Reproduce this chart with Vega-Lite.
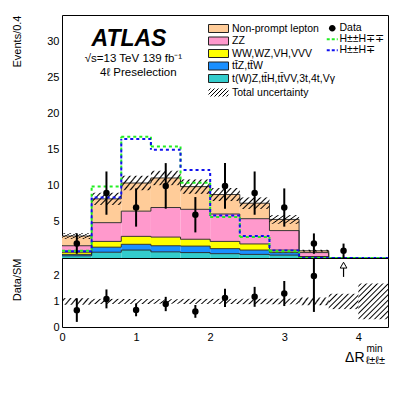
{
"$schema": "https://vega.github.io/schema/vega-lite/v6.json",
"autosize": {"type": "pad"},
"padding": {"left": 10, "top": 13, "right": 10, "bottom": 10},
"spacing": 0,
"bounds": "flush",
"config": {
  "font": "Liberation Sans",
  "view": {"stroke": "black", "strokeWidth": 1},
  "axis": {"labelFontSize": 11, "titleFontSize": 11, "labelColor": "black", "titleColor": "black", "titleFontWeight": "normal", "domain": false, "grid": false, "tickColor": "black", "tickWidth": 1, "tickSize": 0, "labelPadding": 3, "labelFlush": false, "labelOverlap": false},
  "legend": {"labelFontSize": 10.5, "labelColor": "black"}
},
"datasets": {
  "bkg": [
    {"lo":0,"hi":0.4,"c":"oth","o":0,"v":0.3},{"lo":0,"hi":0.4,"c":"ttv","o":1,"v":0.2},{"lo":0,"hi":0.4,"c":"vv","o":2,"v":0.3},{"lo":0,"hi":0.4,"c":"zz","o":3,"v":0.9},{"lo":0,"hi":0.4,"c":"np","o":4,"v":1.35},
    {"lo":0.4,"hi":0.8,"c":"oth","o":0,"v":0.8},{"lo":0.4,"hi":0.8,"c":"ttv","o":1,"v":0.7},{"lo":0.4,"hi":0.8,"c":"vv","o":2,"v":0.8},{"lo":0.4,"hi":0.8,"c":"zz","o":3,"v":2.6},{"lo":0.4,"hi":0.8,"c":"np","o":4,"v":3.3},
    {"lo":0.8,"hi":1.2,"c":"oth","o":0,"v":1.1},{"lo":0.8,"hi":1.2,"c":"ttv","o":1,"v":0.8},{"lo":0.8,"hi":1.2,"c":"vv","o":2,"v":1.1},{"lo":0.8,"hi":1.2,"c":"zz","o":3,"v":3.5},{"lo":0.8,"hi":1.2,"c":"np","o":4,"v":3.9},
    {"lo":1.2,"hi":1.6,"c":"oth","o":0,"v":0.85},{"lo":1.2,"hi":1.6,"c":"ttv","o":1,"v":0.85},{"lo":1.2,"hi":1.6,"c":"vv","o":2,"v":1.2},{"lo":1.2,"hi":1.6,"c":"zz","o":3,"v":4.1},{"lo":1.2,"hi":1.6,"c":"np","o":4,"v":4.1},
    {"lo":1.6,"hi":2.0,"c":"oth","o":0,"v":0.75},{"lo":1.6,"hi":2.0,"c":"ttv","o":1,"v":0.9},{"lo":1.6,"hi":2.0,"c":"vv","o":2,"v":0.95},{"lo":1.6,"hi":2.0,"c":"zz","o":3,"v":4.15},{"lo":1.6,"hi":2.0,"c":"np","o":4,"v":3.15},
    {"lo":2.0,"hi":2.4,"c":"oth","o":0,"v":0.6},{"lo":2.0,"hi":2.4,"c":"ttv","o":1,"v":0.7},{"lo":2.0,"hi":2.4,"c":"vv","o":2,"v":1.0},{"lo":2.0,"hi":2.4,"c":"zz","o":3,"v":3.8},{"lo":2.0,"hi":2.4,"c":"np","o":4,"v":2.7},
    {"lo":2.4,"hi":2.8,"c":"oth","o":0,"v":0.5},{"lo":2.4,"hi":2.8,"c":"ttv","o":1,"v":0.6},{"lo":2.4,"hi":2.8,"c":"vv","o":2,"v":0.85},{"lo":2.4,"hi":2.8,"c":"zz","o":3,"v":3.5},{"lo":2.4,"hi":2.8,"c":"np","o":4,"v":2.15},
    {"lo":2.8,"hi":3.2,"c":"oth","o":0,"v":0.4},{"lo":2.8,"hi":3.2,"c":"ttv","o":1,"v":0.35},{"lo":2.8,"hi":3.2,"c":"vv","o":2,"v":0.35},{"lo":2.8,"hi":3.2,"c":"zz","o":3,"v":2.7},{"lo":2.8,"hi":3.2,"c":"np","o":4,"v":1.55},
    {"lo":3.2,"hi":3.6,"c":"oth","o":0,"v":0.05},{"lo":3.2,"hi":3.6,"c":"ttv","o":1,"v":0.05},{"lo":3.2,"hi":3.6,"c":"vv","o":2,"v":0.1},{"lo":3.2,"hi":3.6,"c":"zz","o":3,"v":0.55},{"lo":3.2,"hi":3.6,"c":"np","o":4,"v":0.25},
    {"lo":3.6,"hi":4.0,"c":"oth","o":0,"v":0},{"lo":3.6,"hi":4.0,"c":"ttv","o":1,"v":0},{"lo":3.6,"hi":4.0,"c":"vv","o":2,"v":0},{"lo":3.6,"hi":4.0,"c":"zz","o":3,"v":0},{"lo":3.6,"hi":4.0,"c":"np","o":4,"v":0}
  ],
  "band": [
    {"lo":0,"hi":0.4,"l":2.65,"u":3.45},{"lo":0.4,"hi":0.8,"l":7.35,"u":9.05},{"lo":0.8,"hi":1.2,"l":9.4,"u":11.4},{"lo":1.2,"hi":1.6,"l":10.1,"u":12.1},{"lo":1.6,"hi":2.0,"l":8.9,"u":10.9},{"lo":2.0,"hi":2.4,"l":7.9,"u":9.7},{"lo":2.4,"hi":2.8,"l":6.8,"u":8.4},{"lo":2.8,"hi":3.2,"l":4.75,"u":5.95},{"lo":3.2,"hi":3.6,"l":0.85,"u":1.15}
  ],
  "sig": [
    {"lo":0,"hi":0.4,"s":"H±±H∓∓","v":1.0},{"lo":0.4,"hi":0.8,"s":"H±±H∓∓","v":9.9},{"lo":0.8,"hi":1.2,"s":"H±±H∓∓","v":16.8},{"lo":1.2,"hi":1.6,"s":"H±±H∓∓","v":15.45},{"lo":1.6,"hi":2.0,"s":"H±±H∓∓","v":10.45},{"lo":2.0,"hi":2.4,"s":"H±±H∓∓","v":5.7},{"lo":2.4,"hi":2.8,"s":"H±±H∓∓","v":2.9},{"lo":2.8,"hi":3.2,"s":"H±±H∓∓","v":0.95},{"lo":3.2,"hi":3.6,"s":"H±±H∓∓","v":0},{"lo":3.6,"hi":4.0,"s":"H±±H∓∓","v":0},{"lo":4.0,"hi":4.4,"s":"H±±H∓∓","v":0},
    {"lo":0,"hi":0.4,"s":"H±±H∓","v":0.95},{"lo":0.4,"hi":0.8,"s":"H±±H∓","v":8.4},{"lo":0.8,"hi":1.2,"s":"H±±H∓","v":16.5},{"lo":1.2,"hi":1.6,"s":"H±±H∓","v":15.0},{"lo":1.6,"hi":2.0,"s":"H±±H∓","v":12.2},{"lo":2.0,"hi":2.4,"s":"H±±H∓","v":5.9},{"lo":2.4,"hi":2.8,"s":"H±±H∓","v":3.05},{"lo":2.8,"hi":3.2,"s":"H±±H∓","v":1.05},{"lo":3.2,"hi":3.6,"s":"H±±H∓","v":0},{"lo":3.6,"hi":4.0,"s":"H±±H∓","v":0},{"lo":4.0,"hi":4.4,"s":"H±±H∓","v":0}
  ],
  "obs": [
    {"x":0.2,"n":2,"lo":0.59,"hi":3.41},{"x":0.6,"n":9,"lo":6,"hi":12},{"x":1.0,"n":7,"lo":4.35,"hi":9.65},{"x":1.4,"n":10,"lo":6.84,"hi":13.16},{"x":1.8,"n":6,"lo":3.55,"hi":8.45},{"x":2.2,"n":10,"lo":6.84,"hi":13.16},{"x":2.6,"n":9,"lo":6,"hi":12},{"x":3.0,"n":7,"lo":4.35,"hi":9.65},{"x":3.4,"n":2,"lo":0.59,"hi":3.41},{"x":3.8,"n":1,"lo":0,"hi":2}
  ],
  "ratio": [
    {"x":0.2,"r":0.66,"lo":0.2,"hi":1.12},{"x":0.6,"r":1.1,"lo":0.73,"hi":1.47},{"x":1.0,"r":0.67,"lo":0.42,"hi":0.92},{"x":1.4,"r":0.9,"lo":0.62,"hi":1.18},{"x":1.8,"r":0.61,"lo":0.36,"hi":0.86},{"x":2.2,"r":1.14,"lo":0.78,"hi":1.5},{"x":2.6,"r":1.18,"lo":0.79,"hi":1.57},{"x":3.0,"r":1.31,"lo":0.82,"hi":1.8},{"x":3.4,"r":2.0,"lo":0.59,"hi":3.41}
  ],
  "rband": [
    {"lo":0,"hi":0.4,"l":0.87,"u":1.13},{"lo":0.4,"hi":0.8,"l":0.9,"u":1.1},{"lo":0.8,"hi":1.2,"l":0.9,"u":1.1},{"lo":1.2,"hi":1.6,"l":0.91,"u":1.09},{"lo":1.6,"hi":2.0,"l":0.9,"u":1.1},{"lo":2.0,"hi":2.4,"l":0.9,"u":1.1},{"lo":2.4,"hi":2.8,"l":0.895,"u":1.105},{"lo":2.8,"hi":3.2,"l":0.89,"u":1.11},{"lo":3.2,"hi":3.6,"l":0.85,"u":1.15},{"lo":3.6,"hi":4.0,"l":0.7,"u":1.3},{"lo":4.0,"hi":4.4,"l":0.3,"u":1.7}
  ],
  "arrow": [{"x":3.8,"lo":1.96,"hi":2.36,"tip":2.42}],
  "lab": [{"t1":"ATLAS","t2":"√s=13 TeV 139 fb⁻¹","t3":"4ℓ Preselection","t4":"ΔR","t5":"ℓ±ℓ±","t6":"min"}]
},
"vconcat": [
{
  "width": 326, "height": 243,
  "layer": [
    {
      "data": {"name": "bkg"},
      "transform": [{"stack": "v", "groupby": ["lo"], "sort": [{"field": "o"}], "as": ["y0", "y1"]}],
      "mark": {"type": "rect", "strokeWidth": 0},
      "encoding": {
        "x": {"field": "lo", "type": "quantitative", "scale": {"domain": [0, 4.4], "nice": false, "zero": false},
              "axis": {"orient": "bottom", "values": [0,0.2,0.4,0.6,0.8,1,1.2,1.4,1.6,1.8,2,2.2,2.4,2.6,2.8,3,3.2,3.4,3.6,3.8,4,4.2,4.4], "labels": false, "title": null,
                       "encode": {"ticks": {"update": {"y2": {"signal": "abs(datum.value - round(datum.value)) < 0.01 ? -8 : -4"}}}}}},
        "x2": {"field": "hi"},
        "y": {"field": "y0", "type": "quantitative", "scale": {"domain": [0, 33.7], "nice": false, "zero": false},
              "axis": {"orient": "left", "values": [0,1,2,3,4,5,6,7,8,9,10,11,12,13,14,15,16,17,18,19,20,21,22,23,24,25,26,27,28,29,30,31,32,33],
                       "labelExpr": "datum.value % 5 == 0 && datum.value > 0 ? '' + datum.value : ''",
                       "title": "Events/0.4", "titleAnchor": "end", "titlePadding": 10, "minExtent": 30, "maxExtent": 30,
                       "encode": {"ticks": {"update": {"x2": {"signal": "datum.value % 5 == 0 ? 8 : 4"}}}}}},
        "y2": {"field": "y1"},
        "fill": {"field": "c", "type": "nominal",
                 "scale": {"domain": ["np","zz","vv","ttv","oth"],
                           "range": ["#FFCC99","#FF99CC","#FFFF00","#1A8FFF","#33CCCC"]},
                 "legend": {"orient": "none", "legendX": 151, "legendY": 8, "title": null, "padding": 0,
                            "symbolType": "M-2,-0.8H2V0.8H-2Z", "symbolSize": 100, "symbolStrokeColor": "#222", "symbolStrokeWidth": 1, "symbolOpacity": 1,
                            "labelFontSize": 10.5, "labelOffset": 8, "rowPadding": -0.5,
                            "labelExpr": "datum.value == 'np' ? 'Non-prompt lepton' : datum.value == 'zz' ? 'ZZ' : datum.value == 'vv' ? 'WW,WZ,VH,VVV' : datum.value == 'ttv' ? 'tt̄Z,tt̄W' : 't(W)Z,tt̄H,tt̄VV,3t,4t,Vγ'",
                            "encode": {"symbols": {"update": {"stroke": {"value": "#222"}, "strokeWidth": {"value": 1}}}}}}
      }
    },
    {
      "data": {"name": "bkg"},
      "transform": [{"stack": "v", "groupby": ["lo"], "sort": [{"field": "o"}], "as": ["y0", "y1"]}],
      "mark": {"type": "rule", "stroke": "#222", "strokeWidth": 0.9},
      "encoding": {
        "x": {"field": "lo", "type": "quantitative", "axis": null},
        "x2": {"field": "hi"},
        "y": {"field": "y1", "type": "quantitative", "axis": null}
      }
    },
    {
      "data": {"name": "bkg"},
      "transform": [
        {"stack": "v", "groupby": ["lo"], "sort": [{"field": "o"}], "as": ["y0", "y1"]},
        {"window": [{"op": "lag", "field": "y1", "as": "prev"}], "groupby": ["c"], "sort": [{"field": "lo"}]},
        {"filter": "datum.prev != null"}
      ],
      "mark": {"type": "rule", "stroke": "#222", "strokeWidth": 0.9},
      "encoding": {
        "x": {"field": "lo", "type": "quantitative", "axis": null},
        "y": {"field": "prev", "type": "quantitative", "axis": null},
        "y2": {"field": "y1"}
      }
    },
    {
      "data": {"name": "band"},
      "mark": {"type": "rect", "strokeWidth": 0,
               "fill": {"gradient":"linear","x1":0,"y1":0,"x2":1.207,"y2":0.483,"stops":[
                 {"offset":0.0357,"color":"transparent"},{"offset":0.0714,"color":"#000"},{"offset":0.1071,"color":"transparent"},
                 {"offset":0.1786,"color":"transparent"},{"offset":0.2143,"color":"#000"},{"offset":0.25,"color":"transparent"},
                 {"offset":0.3214,"color":"transparent"},{"offset":0.3571,"color":"#000"},{"offset":0.3929,"color":"transparent"},
                 {"offset":0.4643,"color":"transparent"},{"offset":0.5,"color":"#000"},{"offset":0.5357,"color":"transparent"},
                 {"offset":0.6071,"color":"transparent"},{"offset":0.6429,"color":"#000"},{"offset":0.6786,"color":"transparent"},
                 {"offset":0.75,"color":"transparent"},{"offset":0.7857,"color":"#000"},{"offset":0.8214,"color":"transparent"},
                 {"offset":0.8929,"color":"transparent"},{"offset":0.9286,"color":"#000"},{"offset":0.9643,"color":"transparent"}]}},
      "encoding": {
        "x": {"field": "lo", "type": "quantitative",
              "axis": {"orient": "top", "values": [0,0.2,0.4,0.6,0.8,1,1.2,1.4,1.6,1.8,2,2.2,2.4,2.6,2.8,3,3.2,3.4,3.6,3.8,4,4.2,4.4], "labels": false, "title": null,
                       "encode": {"ticks": {"update": {"y2": {"signal": "abs(datum.value - round(datum.value)) < 0.01 ? 8 : 4"}}}}}},
        "x2": {"field": "hi"},
        "y": {"field": "l", "type": "quantitative",
              "axis": {"orient": "right", "values": [0,1,2,3,4,5,6,7,8,9,10,11,12,13,14,15,16,17,18,19,20,21,22,23,24,25,26,27,28,29,30,31,32,33], "labels": false, "title": null,
                       "encode": {"ticks": {"update": {"x2": {"signal": "datum.value % 5 == 0 ? -8 : -4"}}}}}},
        "y2": {"field": "u"},
        "opacity": {"datum": "Total uncertainty", "type": "nominal", "scale": {"domain": ["Total uncertainty"], "range": [1]},
                    "legend": {"orient": "none", "legendX": 151, "legendY": 72, "title": null, "padding": 0,
                               "symbolType": "M-2,-0.8H2V0.8H-2Z", "symbolSize": 100, "symbolStrokeColor": "#222", "symbolStrokeWidth": 1,
                               "labelFontSize": 10.5, "labelOffset": 8,
                               "encode": {"symbols": {"update": {"stroke": {"value": "#222"}, "strokeWidth": {"value": 1}}}}}}
      }
    },
    {
      "data": {"name": "sig"},
      "transform": [{"filter": "datum.s == 'H±±H∓∓'"}],
      "mark": {"type": "rule", "strokeWidth": 2, "strokeDash": [3, 3]},
      "encoding": {
        "x": {"field": "lo", "type": "quantitative", "axis": null},
        "x2": {"field": "hi"},
        "y": {"field": "v", "type": "quantitative", "axis": null},
        "stroke": {"field": "s", "type": "nominal",
                   "scale": {"domain": ["Data", "H±±H∓∓", "H±±H∓"], "range": ["black", "#22EE22", "#1010EE"]},
                   "legend": {"orient": "none", "legendX": 265, "legendY": 8, "title": null, "padding": 0, "symbolSize": 100,
                              "labelFontSize": 10.5, "labelOffset": 2, "rowPadding": -0.5,
                              "encode": {"symbols": {"update": {
                                "shape": {"signal": "datum.value === 'Data' ? 'M-0.66,0A0.66,0.66,0,1,1,0.66,0A0.66,0.66,0,1,1,-0.66,0Z' : 'M-1.1,0H1.1'"},
                                "fill": {"signal": "datum.value === 'Data' ? 'black' : 'transparent'"},
                                "strokeWidth": {"signal": "datum.value === 'Data' ? 0 : 2"},
                                "strokeDash": {"signal": "datum.value === 'Data' ? [1, 0] : [3, 2]"},
                                "opacity": {"value": 1}}}}}}
      }
    },
    {
      "data": {"name": "sig"},
      "transform": [
        {"filter": "datum.s == 'H±±H∓∓'"},
        {"window": [{"op": "lag", "field": "v", "as": "prev"}], "sort": [{"field": "lo"}]},
        {"filter": "datum.prev != null"}
      ],
      "mark": {"type": "rule", "strokeWidth": 2, "strokeDash": [3, 3], "stroke": "#22EE22"},
      "encoding": {
        "x": {"field": "lo", "type": "quantitative", "axis": null},
        "y": {"field": "prev", "type": "quantitative", "axis": null},
        "y2": {"field": "v"}
      }
    },
    {
      "data": {"name": "sig"},
      "transform": [{"filter": "datum.s == 'H±±H∓'"}],
      "mark": {"type": "rule", "strokeWidth": 2, "strokeDash": [3, 3], "strokeDashOffset": 3, "stroke": "#1010EE"},
      "encoding": {
        "x": {"field": "lo", "type": "quantitative", "axis": null},
        "x2": {"field": "hi"},
        "y": {"field": "v", "type": "quantitative", "axis": null}
      }
    },
    {
      "data": {"name": "sig"},
      "transform": [
        {"filter": "datum.s == 'H±±H∓'"},
        {"window": [{"op": "lag", "field": "v", "as": "prev"}], "sort": [{"field": "lo"}]},
        {"filter": "datum.prev != null"}
      ],
      "mark": {"type": "rule", "strokeWidth": 2, "strokeDash": [3, 3], "strokeDashOffset": 3, "stroke": "#1010EE"},
      "encoding": {
        "x": {"field": "lo", "type": "quantitative", "axis": null},
        "y": {"field": "prev", "type": "quantitative", "axis": null},
        "y2": {"field": "v"}
      }
    },
    {
      "data": {"name": "obs"},
      "mark": {"type": "rule", "stroke": "black", "strokeWidth": 2},
      "encoding": {
        "x": {"field": "x", "type": "quantitative", "axis": null},
        "y": {"field": "lo", "type": "quantitative", "axis": null},
        "y2": {"field": "hi"}
      }
    },
    {
      "data": {"name": "obs"},
      "mark": {"type": "point", "shape": "circle", "filled": true, "fill": "black", "stroke": "black", "strokeWidth": 0, "size": 42, "opacity": 1},
      "encoding": {
        "x": {"field": "x", "type": "quantitative", "axis": null},
        "y": {"field": "n", "type": "quantitative", "axis": null}
      }
    },
    {
      "data": {"name": "lab"},
      "mark": {"type": "text", "fontSize": 23, "fontWeight": "bold", "fontStyle": "italic", "align": "center", "baseline": "alphabetic", "fill": "black"},
      "encoding": {"text": {"field": "t1"}, "x": {"datum": 0.904, "type": "quantitative", "axis": null}, "y": {"datum": 29.4, "type": "quantitative", "axis": null}}
    },
    {
      "data": {"name": "lab"},
      "mark": {"type": "text", "fontSize": 11.5, "align": "center", "baseline": "alphabetic", "fill": "black"},
      "encoding": {"text": {"field": "t2"}, "x": {"datum": 0.965, "type": "quantitative", "axis": null}, "y": {"datum": 27.2, "type": "quantitative", "axis": null}}
    },
    {
      "data": {"name": "lab"},
      "mark": {"type": "text", "fontSize": 11.5, "align": "center", "baseline": "alphabetic", "fill": "black"},
      "encoding": {"text": {"field": "t3"}, "x": {"datum": 1.03, "type": "quantitative", "axis": null}, "y": {"datum": 25.3, "type": "quantitative", "axis": null}}
    }
  ],
  "resolve": {"axis": {"x": "independent", "y": "independent"}}
},
{
  "width": 326, "height": 69,
  "layer": [
    {
      "data": {"name": "rband"},
      "transform": [{"filter": "datum.lo < 3.5"}],
      "mark": {"type": "rect", "strokeWidth": 0,
               "fill": {"gradient":"linear","x1":0,"y1":0,"x2":1.149,"y2":0.218,"stops":[
                 {"offset":0.0417,"color":"transparent"},{"offset":0.0833,"color":"#000"},{"offset":0.125,"color":"transparent"},
                 {"offset":0.2083,"color":"transparent"},{"offset":0.25,"color":"#000"},{"offset":0.2917,"color":"transparent"},
                 {"offset":0.375,"color":"transparent"},{"offset":0.4167,"color":"#000"},{"offset":0.4583,"color":"transparent"},
                 {"offset":0.5417,"color":"transparent"},{"offset":0.5833,"color":"#000"},{"offset":0.625,"color":"transparent"},
                 {"offset":0.7083,"color":"transparent"},{"offset":0.75,"color":"#000"},{"offset":0.7917,"color":"transparent"},
                 {"offset":0.875,"color":"transparent"},{"offset":0.9167,"color":"#000"},{"offset":0.9583,"color":"transparent"}]}},
      "encoding": {
        "x": {"field": "lo", "type": "quantitative", "scale": {"domain": [0, 4.4], "nice": false, "zero": false},
              "axis": {"orient": "bottom", "values": [0,0.2,0.4,0.6,0.8,1,1.2,1.4,1.6,1.8,2,2.2,2.4,2.6,2.8,3,3.2,3.4,3.6,3.8,4,4.2,4.4],
                       "labelExpr": "abs(datum.value - round(datum.value)) < 0.01 ? '' + round(datum.value) : ''", "labelPadding": 4,
                       "title": null,
                       "encode": {"ticks": {"update": {"y2": {"signal": "abs(datum.value - round(datum.value)) < 0.01 ? -6 : -3"}}}}}},
        "x2": {"field": "hi"},
        "y": {"field": "l", "type": "quantitative", "scale": {"domain": [0, 2.7], "nice": false, "zero": false},
              "axis": {"orient": "left", "values": [0,0.2,0.4,0.6,0.8,1,1.2,1.4,1.6,1.8,2,2.2,2.4,2.6],
                       "labelExpr": "abs(datum.value - round(datum.value)) < 0.01 ? '' + round(datum.value) : ''",
                       "title": "Data/SM", "titleAnchor": "end", "titlePadding": 10, "minExtent": 30, "maxExtent": 30,
                       "encode": {"ticks": {"update": {"x2": {"signal": "abs(datum.value - round(datum.value)) < 0.01 ? 8 : 4"}}}}}},
        "y2": {"field": "u"}
      }
    },
    {
      "data": {"name": "rband"},
      "transform": [{"filter": "datum.lo > 3.5 && datum.lo < 3.9"}],
      "mark": {"type": "rect", "strokeWidth": 0,
               "fill": {"gradient":"linear","x1":0,"y1":0,"x2":1.197,"y2":0.622,"stops":[
                 {"offset":0.03125,"color":"transparent"},{"offset":0.0625,"color":"#000"},{"offset":0.09375,"color":"transparent"},
                 {"offset":0.15625,"color":"transparent"},{"offset":0.1875,"color":"#000"},{"offset":0.21875,"color":"transparent"},
                 {"offset":0.28125,"color":"transparent"},{"offset":0.3125,"color":"#000"},{"offset":0.34375,"color":"transparent"},
                 {"offset":0.40625,"color":"transparent"},{"offset":0.4375,"color":"#000"},{"offset":0.46875,"color":"transparent"},
                 {"offset":0.53125,"color":"transparent"},{"offset":0.5625,"color":"#000"},{"offset":0.59375,"color":"transparent"},
                 {"offset":0.65625,"color":"transparent"},{"offset":0.6875,"color":"#000"},{"offset":0.71875,"color":"transparent"},
                 {"offset":0.78125,"color":"transparent"},{"offset":0.8125,"color":"#000"},{"offset":0.84375,"color":"transparent"},
                 {"offset":0.90625,"color":"transparent"},{"offset":0.9375,"color":"#000"},{"offset":0.96875,"color":"transparent"}]}},
      "encoding": {
        "x": {"field": "lo", "type": "quantitative", "axis": null},
        "x2": {"field": "hi"},
        "y": {"field": "l", "type": "quantitative", "axis": null},
        "y2": {"field": "u"}
      }
    },
    {
      "data": {"name": "rband"},
      "transform": [{"filter": "datum.lo > 3.9"}],
      "mark": {"type": "rect", "strokeWidth": 0,
               "fill": {"gradient":"linear","x1":0,"y1":0,"x2":0.897,"y2":1.085,"stops":[
                 {"offset":0.0208,"color":"transparent"},{"offset":0.0417,"color":"#000"},{"offset":0.0625,"color":"transparent"},
                 {"offset":0.1042,"color":"transparent"},{"offset":0.125,"color":"#000"},{"offset":0.1458,"color":"transparent"},
                 {"offset":0.1875,"color":"transparent"},{"offset":0.2083,"color":"#000"},{"offset":0.2292,"color":"transparent"},
                 {"offset":0.2708,"color":"transparent"},{"offset":0.2917,"color":"#000"},{"offset":0.3125,"color":"transparent"},
                 {"offset":0.3542,"color":"transparent"},{"offset":0.375,"color":"#000"},{"offset":0.3958,"color":"transparent"},
                 {"offset":0.4375,"color":"transparent"},{"offset":0.4583,"color":"#000"},{"offset":0.4792,"color":"transparent"},
                 {"offset":0.5208,"color":"transparent"},{"offset":0.5417,"color":"#000"},{"offset":0.5625,"color":"transparent"},
                 {"offset":0.6042,"color":"transparent"},{"offset":0.625,"color":"#000"},{"offset":0.6458,"color":"transparent"},
                 {"offset":0.6875,"color":"transparent"},{"offset":0.7083,"color":"#000"},{"offset":0.7292,"color":"transparent"},
                 {"offset":0.7708,"color":"transparent"},{"offset":0.7917,"color":"#000"},{"offset":0.8125,"color":"transparent"},
                 {"offset":0.8542,"color":"transparent"},{"offset":0.875,"color":"#000"},{"offset":0.8958,"color":"transparent"},
                 {"offset":0.9375,"color":"transparent"},{"offset":0.9583,"color":"#000"},{"offset":0.9792,"color":"transparent"}]}},
      "encoding": {
        "x": {"field": "lo", "type": "quantitative", "axis": null},
        "x2": {"field": "hi"},
        "y": {"field": "l", "type": "quantitative", "axis": null},
        "y2": {"field": "u"}
      }
    },
    {
      "mark": {"type": "rule", "stroke": "black", "strokeWidth": 1},
      "encoding": {"y": {"datum": 1, "type": "quantitative", "axis": null}}
    },
    {
      "data": {"name": "ratio"},
      "mark": {"type": "rule", "stroke": "black", "strokeWidth": 2, "clip": true},
      "encoding": {
        "x": {"field": "x", "type": "quantitative",
              "axis": {"orient": "top", "values": [0,0.2,0.4,0.6,0.8,1,1.2,1.4,1.6,1.8,2,2.2,2.4,2.6,2.8,3,3.2,3.4,3.6,3.8,4,4.2,4.4], "labels": false, "title": null,
                       "encode": {"ticks": {"update": {"y2": {"signal": "abs(datum.value - round(datum.value)) < 0.01 ? 6 : 3"}}}}}},
        "y": {"field": "lo", "type": "quantitative",
              "axis": {"orient": "right", "values": [0,0.2,0.4,0.6,0.8,1,1.2,1.4,1.6,1.8,2,2.2,2.4,2.6], "labels": false, "title": null,
                       "encode": {"ticks": {"update": {"x2": {"signal": "abs(datum.value - round(datum.value)) < 0.01 ? -8 : -4"}}}}}},
        "y2": {"field": "hi"}
      }
    },
    {
      "data": {"name": "ratio"},
      "mark": {"type": "point", "shape": "circle", "filled": true, "fill": "black", "strokeWidth": 0, "size": 42, "opacity": 1},
      "encoding": {
        "x": {"field": "x", "type": "quantitative", "axis": null},
        "y": {"field": "r", "type": "quantitative", "axis": null}
      }
    },
    {
      "data": {"name": "arrow"},
      "mark": {"type": "rule", "stroke": "black", "strokeWidth": 1.2},
      "encoding": {
        "x": {"field": "x", "type": "quantitative", "axis": null},
        "y": {"field": "lo", "type": "quantitative", "axis": null},
        "y2": {"field": "hi"}
      }
    },
    {
      "data": {"name": "arrow"},
      "mark": {"type": "point", "shape": "triangle-up", "filled": true, "fill": "white", "stroke": "black", "strokeWidth": 1, "size": 45, "opacity": 1},
      "encoding": {
        "x": {"field": "x", "type": "quantitative", "axis": null},
        "y": {"field": "tip", "type": "quantitative", "axis": null}
      }
    },
    {
      "data": {"name": "lab"},
      "mark": {"type": "text", "fontSize": 14, "align": "left", "baseline": "alphabetic", "fill": "black", "clip": false},
      "encoding": {"text": {"field": "t4"}, "x": {"datum": 3.82, "type": "quantitative", "axis": null}, "y": {"datum": -1.37, "type": "quantitative", "axis": null}}
    },
    {
      "data": {"name": "lab"},
      "mark": {"type": "text", "fontSize": 11, "align": "left", "baseline": "alphabetic", "fill": "black", "clip": false},
      "encoding": {"text": {"field": "t5"}, "x": {"datum": 4.1, "type": "quantitative", "axis": null}, "y": {"datum": -1.45, "type": "quantitative", "axis": null}}
    },
    {
      "data": {"name": "lab"},
      "mark": {"type": "text", "fontSize": 10, "align": "left", "baseline": "alphabetic", "fill": "black", "clip": false},
      "encoding": {"text": {"field": "t6"}, "x": {"datum": 4.11, "type": "quantitative", "axis": null}, "y": {"datum": -0.98, "type": "quantitative", "axis": null}}
    }
  ],
  "resolve": {"axis": {"x": "independent", "y": "independent"}}
}
],
"resolve": {"scale": {"fill": "independent", "stroke": "independent", "opacity": "independent"}}
}
